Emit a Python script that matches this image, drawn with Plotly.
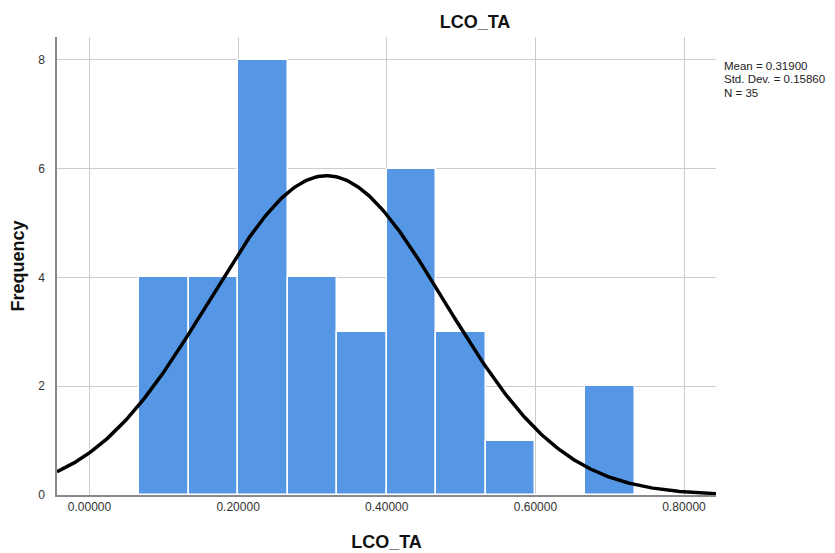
import numpy as np
import plotly.graph_objects as go

# Data
bin_start = 0.0666667
bin_width = 0.0666667
counts = [4, 4, 8, 4, 3, 6, 3, 1, 0, 2]
mean_val = 0.31900
std_val = 0.15860
n_val = 35
x_ticks = [0.0, 0.2, 0.4, 0.6, 0.8]
x_tick_labels = ["0.00000", "0.20000", "0.40000", "0.60000", "0.80000"]
y_ticks = [0, 2, 4, 6, 8]
stats_lines = [f"Mean = {mean_val:.5f}", f"Std. Dev. = {std_val:.5f}", f"N = {n_val}"]

centers = [bin_start + bin_width * (i + 0.5) for i in range(len(counts))]

xr = [-0.0437, 0.843]
xs = np.linspace(xr[0], xr[1], 400)
ys = n_val * bin_width / (std_val * np.sqrt(2 * np.pi)) * np.exp(-0.5 * ((xs - mean_val) / std_val) ** 2)

FONT = "Arial, Liberation Sans, sans-serif"

# page body has an 8px default margin; compensate so the figure fits the window
OFF = 8
W, H = 835 - OFF, 553 - OFF
L, T = 57 - OFF, 37 - OFF
R = W - (716 - OFF)
B = H - (495 - OFF)
PH = H - T - B
PW = W - L - R

fig = go.Figure()
fig.add_trace(go.Bar(
    x=centers, y=counts, width=[bin_width] * len(counts),
    marker=dict(color="#5596E5", line=dict(color="white", width=1.5)),
    hoverinfo="x+y",
))
fig.add_trace(go.Scatter(
    x=xs, y=ys, mode="lines", line=dict(color="black", width=3.5),
    hoverinfo="skip",
))

fig.update_layout(
    width=W, height=H,
    margin=dict(l=L, r=R, t=T, b=B),
    paper_bgcolor="white", plot_bgcolor="white",
    showlegend=False,
    font=dict(family=FONT, size=12, color="#333333"),
    bargap=0,
    xaxis=dict(
        range=xr, tickvals=x_ticks, ticktext=x_tick_labels, automargin=False,
        showgrid=True, gridcolor="#CCCCCC", gridwidth=1,
        showline=True, linecolor="#888888", linewidth=1.5,
        zeroline=False, ticks="", ticklen=0,
        tickfont=dict(family=FONT, size=12, color="#333333"),
        title=dict(text="<b>LCO_TA</b>", font=dict(family=FONT, size=18, color="#111111"), standoff=22),
    ),
    yaxis=dict(
        range=[0, 8.42], tickvals=y_ticks, automargin=False,
        showgrid=True, gridcolor="#CCCCCC", gridwidth=1,
        showline=True, linecolor="#888888", linewidth=1.5,
        zeroline=False, ticks="outside", ticklen=8, tickcolor="rgba(0,0,0,0)",
        tickfont=dict(family=FONT, size=12, color="#333333"),
        title=dict(text="<b>Frequency</b>", font=dict(family=FONT, size=18, color="#111111"), standoff=12),
    ),
    title=dict(text="<b>LCO_TA</b>", x=(475 - OFF) / W, xanchor="center", y=1 - (22 - OFF) / H, yanchor="middle",
               font=dict(family=FONT, size=18, color="#111111")),
)

for i, line in enumerate(stats_lines):
    fig.add_annotation(
        xref="paper", yref="paper", x=(724 - OFF - L) / PW, y=1 - (66 + 13.5 * i - OFF - T) / PH,
        text=line, showarrow=False, xanchor="left", yanchor="middle", align="left",
        borderpad=0, xshift=-1,
        font=dict(family=FONT, size=11.5, color="#222222"),
    )

fig.write_html("out.html")
